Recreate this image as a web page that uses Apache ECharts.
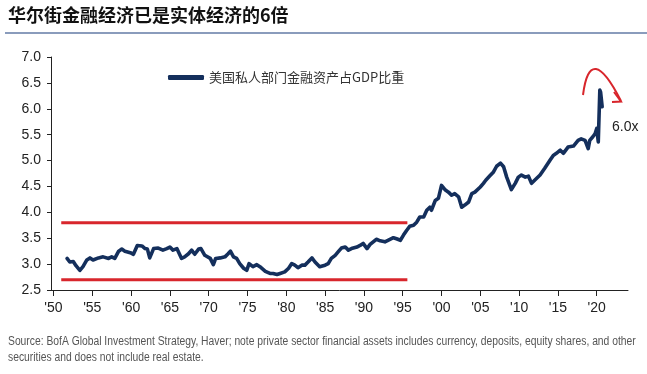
<!DOCTYPE html>
<html>
<head>
<meta charset="utf-8">
<script src="https://cdn.jsdelivr.net/npm/echarts@6/dist/echarts.min.js"></script>
<style>
html,body{margin:0;padding:0;background:#fff;}
#chart{width:647px;height:374px;}
</style>
</head>
<body>
<div id="chart"></div>
<script>
// ---- data ----
var years = [1951.75,1952.1,1952.55,1952.9,1953.4,1953.8,1954.3,1954.7,1955.1,1955.8,1956.4,1957.1,1957.5,1957.9,1958.4,1958.8,1959.2,1959.9,1960.3,1960.8,1961.4,1961.8,1962.1,1962.4,1962.9,1963.5,1964.1,1964.6,1965.0,1965.4,1965.9,1966.5,1966.9,1967.4,1967.8,1968.2,1968.7,1969.0,1969.5,1970.2,1970.6,1970.9,1971.5,1972.1,1972.5,1972.8,1973.2,1973.6,1974.0,1974.5,1974.9,1975.2,1975.7,1976.2,1976.6,1977.3,1977.9,1978.3,1978.8,1979.2,1979.8,1980.3,1980.7,1981.1,1981.5,1982.0,1982.4,1982.8,1983.3,1983.7,1984.3,1985.0,1985.4,1985.8,1986.3,1986.7,1987.1,1987.6,1988.0,1988.4,1989.1,1989.5,1989.9,1990.4,1990.8,1991.2,1991.6,1992.1,1992.7,1993.1,1993.8,1994.2,1994.7,1995.1,1995.5,1995.9,1996.4,1996.8,1997.2,1997.7,1998.1,1998.5,1998.7,1999.2,1999.6,2000.0,2000.5,2000.9,2001.3,2001.7,2002.2,2002.6,2003.0,2003.5,2003.9,2004.3,2005.0,2005.4,2005.7,2006.2,2006.7,2007.1,2007.6,2008.0,2008.4,2009.0,2009.5,2009.9,2010.3,2010.8,2011.2,2011.6,2012.0,2012.7,2013.3,2014.0,2014.4,2014.8,2015.3,2015.7,2016.3,2017.0,2017.6,2018.0,2018.5,2018.9,2019.1,2019.5,2019.8,2020.0,2020.2,2020.4,2020.5,2020.7];
var ratio = [3.11,3.04,3.05,2.97,2.88,2.95,3.08,3.12,3.08,3.12,3.14,3.11,3.14,3.11,3.25,3.29,3.25,3.22,3.19,3.36,3.35,3.30,3.29,3.12,3.30,3.31,3.27,3.30,3.33,3.27,3.30,3.11,3.14,3.20,3.27,3.19,3.29,3.30,3.17,3.11,2.99,3.11,3.12,3.14,3.20,3.25,3.14,3.11,3.01,2.92,2.88,3.01,2.95,2.99,2.95,2.86,2.82,2.82,2.80,2.82,2.85,2.92,3.01,2.98,2.93,2.98,2.98,3.04,3.12,3.04,2.95,2.98,3.01,3.11,3.17,3.24,3.31,3.33,3.27,3.30,3.33,3.36,3.40,3.30,3.38,3.43,3.48,3.45,3.43,3.46,3.51,3.49,3.46,3.56,3.65,3.73,3.75,3.81,3.91,3.91,4.04,4.10,4.04,4.23,4.27,4.52,4.43,4.39,4.33,4.36,4.30,4.10,4.14,4.20,4.36,4.39,4.49,4.56,4.62,4.70,4.78,4.89,4.95,4.88,4.68,4.44,4.56,4.68,4.72,4.68,4.70,4.56,4.62,4.72,4.85,5.01,5.10,5.14,5.20,5.14,5.26,5.28,5.39,5.42,5.39,5.23,5.39,5.46,5.52,5.62,5.36,6.36,6.32,6.04];
var bandYears = [1951.0, 1995.6];
var bandUpper = [3.8, 3.8];
var bandLower = [2.7, 2.7];
var xTicks = [1950,1955,1960,1965,1970,1975,1980,1985,1990,1995,2000,2005,2010,2015,2020];
var seriesName = '美国私人部门金融资产占GDP比重';
var titleText = '华尔街金融经济已是实体经济的6倍';
var sourceLine1 = 'Source: BofA Global Investment Strategy, Haver; note private sector financial assets includes currency, deposits, equity shares, and other';
var sourceLine2 = 'securities and does not include real estate.';
var annotationText = '6.0x';

function pairs(xs, ys){ return xs.map(function(x,i){ return [x, ys[i]]; }); }

var chart = echarts.init(document.getElementById('chart'));
var navy = '#142f5c';
var red = '#d8262c';
chart.setOption({
  animation: false,
  backgroundColor: '#ffffff',
  grid: { left: 51, right: 19, top: 57, bottom: 84, containLabel: false },
  legend: {
    data: [seriesName],
    left: 163, top: 66,
    icon: 'roundRect', itemWidth: 36, itemHeight: 5, itemGap: 6,
    textStyle: { fontFamily: 'Noto Sans CJK SC', fontSize: 13, color: '#333' }
  },
  xAxis: {
    type: 'value', min: 1949.68, max: 2024.03,
    axisLine: { show: true, lineStyle: { color: '#222', width: 1 } },
    axisTick: { show: true, length: 6, lineStyle: { color: '#222' }, customValues: xTicks },
    axisLabel: {
      customValues: xTicks, margin: 11,
      fontFamily: 'Liberation Sans', fontSize: 14, color: '#222',
      formatter: function(v){ return "'" + String(Math.round(v)).slice(2); }
    },
    splitLine: { show: false }
  },
  yAxis: {
    type: 'value', min: 2.5, max: 7.0, interval: 0.5,
    axisLine: { show: true, lineStyle: { color: '#222', width: 1 } },
    axisTick: { show: true, length: 4, lineStyle: { color: '#222' } },
    axisLabel: { margin: 10, fontFamily: 'Liberation Sans', fontSize: 14, color: '#222',
      formatter: function(v){ return v.toFixed(1); } },
    splitLine: { show: false }
  },
  series: [
    { name: 'upper', type: 'line', data: pairs(bandYears, bandUpper), showSymbol: false,
      lineStyle: { color: red, width: 3 }, silent: true, z: 1 },
    { name: 'lower', type: 'line', data: pairs(bandYears, bandLower), showSymbol: false,
      lineStyle: { color: red, width: 3 }, silent: true, z: 1 },
    { name: seriesName, type: 'line', data: pairs(years, ratio), showSymbol: false,
      itemStyle: { color: navy },
      lineStyle: { color: navy, width: 3.6, join: 'round', cap: 'round' }, z: 3 }
  ],
  graphic: [
    { type: 'text', left: 8, top: 6, style: { text: titleText, font: 'bold 18px "Noto Sans CJK SC"', fill: '#111' } },
    { type: 'rect', shape: { x: 5, y: 32, width: 642, height: 2 }, style: { fill: '#8a9cbc' } },
    { type: 'text', x: 8, y: 336, scaleX: 0.86, style: { text: sourceLine1, font: '12px "Liberation Sans"', fill: '#555' } },
    { type: 'text', x: 8, y: 352, scaleX: 0.86, style: { text: sourceLine2, font: '12px "Liberation Sans"', fill: '#555' } },
    { type: 'text', left: 612, top: 120, style: { text: annotationText, font: '14px "Liberation Sans"', fill: '#222' } },
    { type: 'bezierCurve', shape: { x1: 583, y1: 95, x2: 621, y2: 101, cpx1: 590, cpy1: 40 },
      style: { stroke: red, lineWidth: 2, fill: null } },
    { type: 'polyline', shape: { points: [[614, 92], [621, 101.5], [612, 102]] },
      style: { stroke: red, lineWidth: 2, fill: null } }
  ]
});
</script>
</body>
</html>
